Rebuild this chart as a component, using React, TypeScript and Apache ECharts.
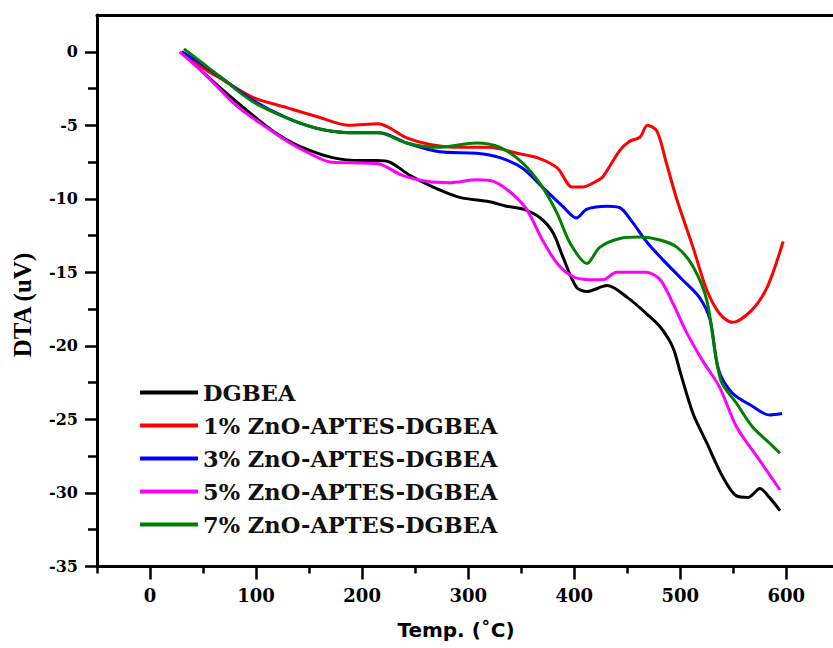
import React, { useEffect, useRef } from "react";
import * as echarts from "echarts";

// Tick values
const xMajorTicks = [0, 100, 200, 300, 400, 500, 600];
const xMinorTicks = [-50, 50, 150, 250, 350, 450, 550];
const yMajorTicks = [-35, -30, -25, -20, -15, -10, -5, 0];
const yMinorTicks = [-32.5, -27.5, -22.5, -17.5, -12.5, -7.5, -2.5];

// Series names
const seriesNames = [
  "DGBEA",
  "1% ZnO-APTES-DGBEA",
  "3% ZnO-APTES-DGBEA",
  "5% ZnO-APTES-DGBEA",
  "7% ZnO-APTES-DGBEA",
];
const seriesColors = ["#000000", "#ff0000", "#0000ff", "#ff00ff", "#007f00"];

// DGBEA
const dgbeaT = [30, 50, 75, 100, 120, 140, 172, 200, 214, 226, 245, 267, 292, 320, 336, 352, 368, 380, 389, 402, 412, 431, 450, 468, 481, 493, 500, 512, 525, 540, 553, 564, 575, 584, 594];
const dgbeaV = [0, -1.4, -3.0, -4.5, -5.6, -6.4, -7.2, -7.4, -7.4, -7.5, -8.4, -9.2, -9.9, -10.2, -10.5, -10.7, -11.3, -12.3, -13.9, -16.0, -16.3, -15.9, -16.7, -17.8, -18.7, -20.1, -21.8, -24.6, -26.6, -28.9, -30.2, -30.3, -29.7, -30.3, -31.2];

// 1%
const zno1T = [30, 50, 66, 97, 129, 157, 188, 215, 242, 264, 292, 320, 346, 365, 384, 398, 408, 421, 427, 443, 452, 462, 469, 478, 487, 497, 512, 525, 537, 549, 567, 582, 597];
const zno1V = [0, -1.1, -1.8, -3.1, -3.8, -4.4, -5.0, -4.9, -5.85, -6.3, -6.5, -6.5, -6.9, -7.2, -7.9, -9.2, -9.2, -8.8, -8.5, -6.7, -6.1, -5.8, -5.0, -5.4, -7.6, -10.1, -13.3, -16.2, -17.8, -18.4, -17.6, -16.0, -12.9];

// 3%
const zno3T = [30, 50, 66, 97, 129, 157, 188, 217, 242, 273, 308, 330, 351, 370, 389, 402, 412, 431, 443, 455, 468, 483, 502, 518, 528, 536, 549, 568, 584, 596];
const zno3V = [0, -0.9, -1.7, -3.3, -4.5, -5.2, -5.5, -5.5, -6.2, -6.8, -6.9, -7.2, -7.9, -9.2, -10.5, -11.3, -10.7, -10.5, -10.6, -11.6, -12.9, -14.1, -15.5, -16.7, -18.2, -21.6, -23.2, -24.1, -24.7, -24.6];

// 5%
const zno5T = [28, 50, 82, 113, 132, 150, 170, 188, 214, 238, 261, 283, 308, 323, 339, 355, 370, 384, 399, 415, 427, 440, 468, 481, 493, 506, 521, 537, 553, 575, 594];
const zno5V = [0, -1.4, -3.7, -5.3, -6.2, -6.9, -7.5, -7.55, -7.6, -8.4, -8.8, -8.9, -8.7, -8.8, -9.5, -10.7, -12.8, -14.4, -15.3, -15.5, -15.5, -15.0, -15.0, -15.5, -17.1, -19.1, -21.0, -22.8, -25.5, -27.8, -29.8];

// 7%
const zno7T = [32, 50, 66, 97, 129, 157, 188, 215, 242, 270, 308, 330, 352, 370, 384, 396, 412, 424, 443, 462, 481, 497, 512, 525, 538, 553, 568, 584, 594];
const zno7V = [0.2, -0.8, -1.7, -3.4, -4.5, -5.2, -5.5, -5.5, -6.2, -6.5, -6.2, -6.5, -7.6, -9.2, -11.0, -13.0, -14.4, -13.3, -12.7, -12.6, -12.8, -13.3, -14.6, -16.9, -22.3, -23.9, -25.5, -26.6, -27.3];

const allT = [dgbeaT, zno1T, zno3T, zno5T, zno7T];
const allV = [dgbeaV, zno1V, zno3V, zno5V, zno7V];

const serifFont = "'DejaVu Serif', 'Liberation Serif', serif";

export default function App() {
  const ref = useRef<HTMLDivElement>(null);

  useEffect(() => {
    if (!ref.current) return;
    const chart = echarts.init(ref.current, null, { renderer: "svg" });

    const series = seriesNames.map((name, i) => ({
      name,
      type: "line",
      xAxisIndex: 0,
      yAxisIndex: 0,
      data: allT[i].map((t, j) => [t, allV[i][j]]),
      smooth: 0.3,
      showSymbol: false,
      symbol: "none",
      lineStyle: { color: seriesColors[i], width: 3 },
      itemStyle: { color: seriesColors[i] },
      z: 3,
    }));

    const xBase = {
      type: "value",
      min: -50,
      max: 644,
      splitLine: { show: false },
    };
    const yBase = {
      type: "value",
      min: -35,
      max: 2.5,
      splitLine: { show: false },
    };

    chart.setOption({
      animation: false,
      backgroundColor: "#ffffff",
      grid: { left: 97, top: 15, right: 0, bottom: 81.5, containLabel: false },
      legend: {
        orient: "vertical",
        left: 135,
        top: 376,
        icon: "rect",
        itemWidth: 58,
        itemHeight: 4,
        itemGap: 10,
        data: seriesNames,
        textStyle: {
          fontFamily: serifFont,
          fontWeight: "bold",
          fontSize: 22.5,
          lineHeight: 23,
          color: "#111",
        },
      },
      xAxis: [
        {
          ...xBase,
          position: "bottom",
          axisLine: { show: true, onZero: false, lineStyle: { color: "#000", width: 3 } },
          axisTick: { show: true, customValues: xMajorTicks, length: 13, lineStyle: { color: "#000", width: 2.5 } },
          axisLabel: {
            show: true,
            customValues: xMajorTicks,
            margin: 20,
            fontFamily: serifFont,
            fontWeight: "bold",
            fontSize: 18,
            color: "#000",
          },
        },
        {
          ...xBase,
          position: "bottom",
          axisLine: { show: false, onZero: false },
          axisTick: { show: true, customValues: xMinorTicks, length: 7, lineStyle: { color: "#000", width: 2.5 } },
          axisLabel: { show: false },
        },
        {
          ...xBase,
          position: "top",
          axisLine: { show: true, onZero: false, lineStyle: { color: "#000", width: 3 } },
          axisTick: { show: false },
          axisLabel: { show: false },
        },
      ],
      yAxis: [
        {
          ...yBase,
          position: "left",
          axisLine: { show: true, onZero: false, lineStyle: { color: "#000", width: 3 } },
          axisTick: { show: true, customValues: yMajorTicks, length: 12, lineStyle: { color: "#000", width: 2.5 } },
          axisLabel: {
            show: true,
            customValues: yMajorTicks,
            margin: 19,
            fontFamily: serifFont,
            fontWeight: "bold",
            fontSize: 16,
            color: "#000",
          },
        },
        {
          ...yBase,
          position: "left",
          axisLine: { show: false, onZero: false },
          axisTick: { show: true, customValues: yMinorTicks, length: 9, lineStyle: { color: "#000", width: 2.5 } },
          axisLabel: { show: false },
        },
      ],
      graphic: [
        {
          type: "text",
          x: 456,
          y: 630,
          style: {
            text: "Temp. (\u02DAC)",
            fontFamily: "'DejaVu Sans', sans-serif",
            fontWeight: "bold",
            fontSize: 20,
            fill: "#000",
            textAlign: "center",
            textVerticalAlign: "middle",
          },
        },
        {
          type: "text",
          x: 22,
          y: 305,
          rotation: Math.PI / 2,
          style: {
            text: "DTA (uV)",
            fontFamily: "'Liberation Serif', serif",
            fontWeight: "bold",
            fontSize: 25,
            fill: "#000",
            textAlign: "center",
            textVerticalAlign: "middle",
          },
        },
      ],
      series,
    });

    return () => {
      chart.dispose();
    };
  }, []);

  return (
    <div
      ref={ref}
      style={{ position: "fixed", left: 0, top: 0, width: 833, height: 648, background: "#fff" }}
    />
  );
}
